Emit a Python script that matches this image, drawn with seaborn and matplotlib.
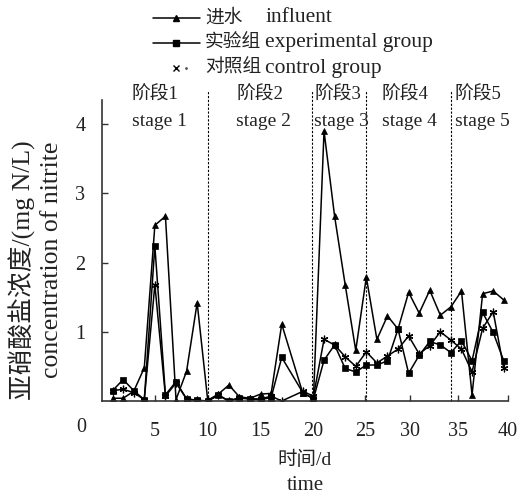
import numpy as np
import pandas as pd
import matplotlib
matplotlib.use("Agg")
import matplotlib.pyplot as plt
import seaborn as sns
from matplotlib.lines import Line2D

# ---------------- data ----------------
days = [1, 2, 3, 4, 5, 6, 7, 8, 9, 10, 11, 12, 13, 14, 15, 16, 17,
        19, 20, 21, 22, 23, 24, 25, 26, 27, 28, 29, 30, 31, 32, 33, 34, 35, 36, 37, 38]
influent = [0.04, 0.04, 0.14, 0.48, 2.54, 2.67, 0.02, 0.43, 1.42, 0.01,
            0.10, 0.23, 0.06, 0.04, 0.10, 0.11, 1.11, 0.11, 0.04,
            3.90, 2.67, 1.68, 0.73, 1.79, 0.89, 1.23, 1.04, 1.57, 1.27, 1.60,
            1.24, 1.36, 1.59, 0.09, 1.55, 1.59, 1.46]
experimental = [0.15, 0.31, 0.15, 0.02, 2.24, 0.09, 0.28, 0.03, 0.01, 0.00,
                0.09, 0.00, 0.04, 0.03, 0.02, 0.05, 0.63, 0.12, 0.03,
                0.59, 0.81, 0.47, 0.42, 0.52, 0.52, 0.58, 1.04, 0.40, 0.66, 0.86,
                0.81, 0.70, 0.87, 0.58, 1.28, 0.99, 0.58]
control = [0.15, 0.17, 0.12, 0.02, 1.68, 0.07, 0.26, 0.03, 0.01, 0.00,
           0.08, 0.00, 0.05, 0.03, 0.03, 0.07, 0.00, 0.14, 0.07,
           0.89, 0.81, 0.64, 0.50, 0.71, 0.55, 0.65, 0.75, 0.94, 0.68, 0.80,
           1.00, 0.88, 0.75, 0.42, 1.05, 1.29, 0.47]
stage_bounds = [10, 19.9, 25, 33]
stage_cn = ["阶段1", "阶段2", "阶段3", "阶段4", "阶段5"]
stage_en = ["stage 1", "stage 2", "stage 3", "stage 4", "stage 5"]
xtick_labels = ["5", "10", "15", "20", "25", "30", "35", "40"]
ytick_values = [1, 2, 3, 4]
series_cn = ["进水", "实验组", "对照组"]
series_en = ["influent", "experimental group", "control group"]

# ---------------- style ----------------
sns.set_theme(style="ticks")
FAM = ["Liberation Serif", "Noto Sans CJK SC"]
plt.rcParams["font.family"] = FAM
plt.rcParams["axes.unicode_minus"] = False
TXT = "#222222"

df = pd.concat([
    pd.DataFrame({"day": days, "value": influent, "series": "influent"}),
    pd.DataFrame({"day": days, "value": experimental, "series": "experimental"}),
    pd.DataFrame({"day": days, "value": control, "series": "control"}),
])

fig = plt.figure(figsize=(5.21, 4.99), dpi=100)
W, H = 521, 499
ax = fig.add_axes([102 / W, (H - 401) / H, 406 / W, 301 / H])

markers = {"influent": "^", "experimental": "s", "control": (6, 2, 0)}
sizes_ms = {"influent": 5, "experimental": 4.3, "control": 5.5}
for name in ["control", "experimental", "influent"]:
    sub = df[df["series"] == name]
    sns.lineplot(data=sub, x="day", y="value", ax=ax, color="black",
                 marker=markers[name], markersize=sizes_ms[name],
                 markeredgecolor="black", markerfacecolor="black",
                 markeredgewidth=0.9 if name == "control" else 0.5,
                 linewidth=1.1, legend=False, estimator=None, sort=False)

ax.set_xlim(0, 38.4)
ax.set_ylim(0, 4.35)
ax.set_xlabel("")
ax.set_ylabel("")

# stage dividers
for b in stage_bounds:
    ax.vlines(b, 0, 4.5, colors="black", linestyles=(0, (2, 1.5)),
              linewidth=0.8, clip_on=False)

# stage labels
stage_x = [131.5, 236.5, 314.5, 381.5, 455]
for x, cn, en in zip(stage_x, stage_cn, stage_en):
    fig.text(x / W, 1 - 95 / H, cn, fontsize=13.5, va="center", ha="left",
             family=FAM, color=TXT)
    fig.text(x / W, 1 - 121 / H, en, fontsize=14, va="center", ha="left",
             family=FAM, color=TXT)

# ticks
xtick_pos = [5, 10, 15, 20, 24.85, 29.1, 33.65, 38.4]
ax.set_xticks(xtick_pos)
ax.set_xticklabels(xtick_labels)
ax.set_yticks(ytick_values)
ax.set_yticklabels([str(v) for v in ytick_values])
ax.tick_params(axis="both", direction="in", length=4, width=1, colors="#333333",
               labelsize=14.5, labelcolor=TXT)
ax.tick_params(axis="x", pad=15)
ax.tick_params(axis="y", pad=12)
for s in ["top", "right"]:
    ax.spines[s].set_visible(False)
for s in ["left", "bottom"]:
    ax.spines[s].set_linewidth(1.2)
    ax.spines[s].set_color("#333333")
fig.text(81 / W, 1 - 427 / H, "0", fontsize=14.5, ha="center", va="center",
         family=FAM, color=TXT)

# axis titles
fig.text(22 / W, 1 - 270 / H, "亚硝酸盐浓度/(mg N/L)", rotation=90, fontsize=18.5,
         ha="center", va="center", family=FAM, color=TXT)
fig.text(52 / W, 1 - 260 / H, "concentration of nitrite", rotation=90, fontsize=18.5,
         ha="center", va="center", family=FAM, color=TXT)
fig.text(305 / W, 1 - 460 / H, "时间/d", fontsize=14, ha="center", va="center",
         family=FAM, color=TXT)
fig.text(305 / W, 1 - 486 / H, "time", fontsize=15, ha="center", va="center",
         family=FAM, color=TXT)

# legend (manual layout)
leg_markers = ["^", "s", "x"]
leg_lines = [True, True, False]
rows_y = [18, 43, 68]
for mk, has_line, y, cn, en in zip(leg_markers, leg_lines, rows_y, series_cn, series_en):
    xs = [153 / W, 200 / W]
    yy = 1 - y / H
    if has_line:
        fig.add_artist(Line2D(xs, [yy, yy], color="black", linewidth=1.1,
                              transform=fig.transFigure))
    fig.add_artist(Line2D([(xs[0] + xs[1]) / 2], [yy], color="black",
                          marker=mk, markersize=4, linestyle="none",
                          markeredgewidth=1, transform=fig.transFigure))
    if not has_line:
        fig.add_artist(Line2D([186 / W], [yy], color="#555555", marker=".",
                              markersize=2, linestyle="none",
                              transform=fig.transFigure))
    fig.text(205 / W, yy, cn, fontsize=13.5, ha="left", va="center", family=FAM,
             color=TXT)
    fig.text(265 / W, yy, en, fontsize=15.5, ha="left", va="center", family=FAM,
             color=TXT)

fig.savefig("out.png", dpi=100)
